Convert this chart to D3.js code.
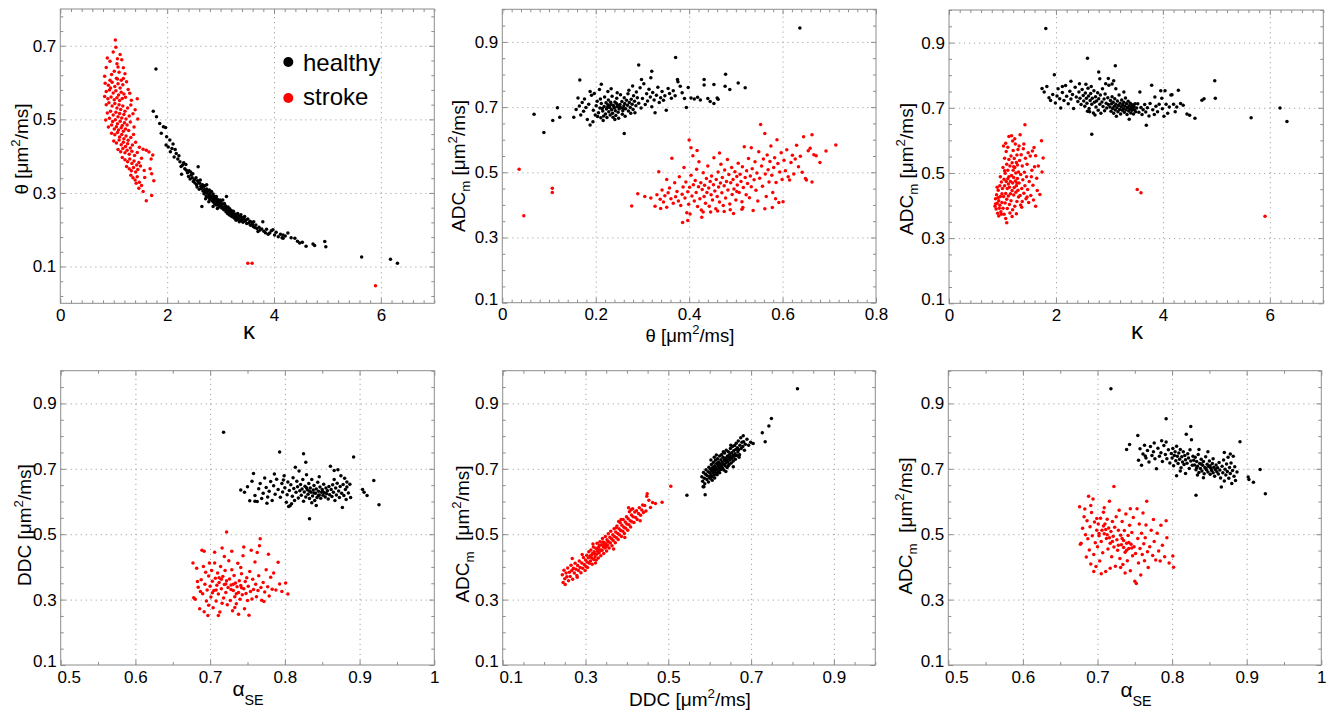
<!DOCTYPE html>
<html>
<head>
<meta charset="utf-8">
<script src="https://cdn.jsdelivr.net/npm/d3@7"></script>
<style>
  body { margin: 0; background: #fff; }
  svg { display: block; font-family: "Liberation Sans", Arial, Helvetica, sans-serif; }
</style>
</head>
<body>
<svg id="fig" width="1329" height="712"></svg>
<script>
// ---------- tick labels ----------
const kappaTicks = [0, 2, 4, 6];
const thetaTicksY = [0.1, 0.3, 0.5, 0.7];
const thetaTicksX = [0, 0.2, 0.4, 0.6, 0.8];
const adcTicks = [0.1, 0.3, 0.5, 0.7, 0.9];
const ddcTicks = [0.1, 0.3, 0.5, 0.7, 0.9];
const alphaTicks = [0.5, 0.6, 0.7, 0.8, 0.9, 1];
const groups = ["healthy", "stroke"];

// ---------- kappa vs theta ----------
const kappaThetaHealthy = [
[1.74,0.522],[1.80,0.507],[1.86,0.489],[1.93,0.480],[1.97,0.478],[1.89,0.462],[1.99,0.453],[2.05,0.444],[2.11,0.433],[1.98,0.430],[2.02,0.425],[2.17,0.407],[2.06,0.412],[2.13,0.398],[2.09,0.421],[2.20,0.392],[2.15,0.418],[2.22,0.401],
[2.24,0.385],[2.29,0.376],[2.27,0.351],[2.31,0.382],[2.26,0.372],[2.33,0.366],[2.36,0.362],[2.35,0.377],[2.38,0.355],[2.41,0.360],[2.40,0.345],[2.43,0.338],[2.45,0.349],[2.44,0.357],[2.47,0.341],[2.49,0.331],[2.48,0.352],[2.51,0.336],[2.52,0.327],[2.54,0.341],[2.55,0.322],[2.57,0.333],[2.58,0.371],[2.56,0.316],[2.59,0.328],[2.60,0.310],[2.61,0.326],[2.62,0.335],[2.63,0.318],[2.65,0.263],
[2.64,0.312],[2.66,0.322],[2.67,0.305],[2.68,0.316],[2.69,0.298],[2.70,0.309],[2.71,0.320],[2.72,0.302],[2.73,0.292],[2.74,0.322],[2.74,0.311],[2.75,0.299],[2.76,0.305],[2.77,0.288],[2.78,0.296],[2.79,0.308],[2.80,0.283],[2.80,0.293],[2.81,0.301],[2.82,0.287],[2.83,0.304],[2.84,0.279],[2.84,0.292],[2.85,0.286],[2.86,0.297],[2.87,0.275],[2.88,0.282],[2.88,0.291],[2.89,0.270],[2.90,0.285],[2.91,0.278],[2.92,0.290],[2.92,0.267],[2.93,0.274],[2.94,0.283],[2.95,0.268],[2.96,0.277],[2.97,0.262],[2.98,0.272],[2.99,0.281],[3.00,0.266],[2.72,0.284],[2.78,0.276],[2.86,0.263],[2.94,0.258],
[3.01,0.276],[3.02,0.259],[3.03,0.269],[3.04,0.281],[3.05,0.262],[3.06,0.254],[3.07,0.271],[3.08,0.258],[3.09,0.265],[3.10,0.249],[3.11,0.290],[3.11,0.260],[3.12,0.253],[3.13,0.244],[3.14,0.262],[3.15,0.251],[3.16,0.241],[3.17,0.257],[3.18,0.248],[3.19,0.238],[3.20,0.252],[3.21,0.244],[3.22,0.235],[3.23,0.245],[3.24,0.250],[3.25,0.239],[3.26,0.231],[3.27,0.243],[3.28,0.236],[3.29,0.226],[3.30,0.240],[3.31,0.233],[3.32,0.244],[3.33,0.228],[3.34,0.237],[3.35,0.222],[3.36,0.236],[3.37,0.230],[3.38,0.241],[3.39,0.225],[3.40,0.233],[3.42,0.220],[3.43,0.229],[3.45,0.236],[3.46,0.224],[3.48,0.227],[3.49,0.217],
[3.51,0.229],[3.53,0.218],[3.55,0.223],[3.56,0.212],[3.58,0.220],[3.60,0.214],[3.61,0.209],[3.62,0.222],[3.64,0.206],[3.66,0.213],[3.68,0.203],[3.70,0.195],[3.72,0.207],[3.74,0.199],[3.77,0.202],[3.79,0.222],[3.81,0.196],[3.84,0.192],[3.86,0.201],[3.89,0.188],[3.92,0.191],[3.95,0.197],[3.98,0.200],[4.01,0.186],[4.04,0.193],[4.08,0.181],[4.12,0.188],[4.15,0.178],[4.17,0.186],[4.17,0.177],[4.21,0.183],[4.26,0.191],
[4.32,0.178],[4.39,0.177],[4.44,0.169],[4.48,0.164],[4.53,0.166],[4.60,0.155],[4.73,0.161],[4.76,0.157],[4.95,0.168],[4.97,0.154],
[1.79,0.637],[5.64,0.126],[6.18,0.120],[6.31,0.109]
];
const kappaThetaStroke = [
[1.03,0.716],[1.04,0.696],[0.88,0.667],[1.07,0.665],[1.15,0.662],[1.06,0.651],[1.08,0.642],[0.93,0.658],[0.99,0.683],[1.12,0.676],[0.86,0.641],[1.01,0.631],[1.10,0.628],[0.96,0.622],[1.18,0.640],[0.83,0.617],[0.93,0.606],[1.05,0.612],[1.14,0.606],[1.21,0.624],
[0.84,0.598],[0.90,0.593],[0.97,0.601],[1.02,0.589],[1.08,0.597],[1.12,0.585],[1.17,0.594],[1.24,0.602],[0.86,0.576],[0.92,0.580],[0.99,0.572],[1.04,0.578],[1.09,0.566],[1.14,0.574],[1.19,0.569],[1.27,0.581],[0.83,0.562],[0.89,0.556],[0.95,0.561],[1.01,0.553],[1.06,0.559],[1.11,0.551],[1.16,0.557],[1.22,0.560],[1.33,0.552],[1.44,0.556],[0.94,0.585],[1.07,0.610],[1.30,0.571],[1.18,0.611],
[0.86,0.540],[0.91,0.545],[0.97,0.536],[1.02,0.543],[1.06,0.531],[1.10,0.540],[1.13,0.527],[1.17,0.536],[1.21,0.522],[1.26,0.531],[1.32,0.539],[1.40,0.526],[0.88,0.517],[0.94,0.522],[0.99,0.512],[1.04,0.519],[1.08,0.507],[1.11,0.516],[1.15,0.504],[1.19,0.513],[1.23,0.501],[1.29,0.509],[1.36,0.515],[0.85,0.498],[0.92,0.503],[0.98,0.494],[1.03,0.499],[1.07,0.488],[1.12,0.495],[1.16,0.483],[1.20,0.491],[1.25,0.485],[1.31,0.493],[1.45,0.501],[0.90,0.479],[0.96,0.485],[1.01,0.474],[1.05,0.480],[1.09,0.471],[1.14,0.477],[1.18,0.468],[1.22,0.474],[1.28,0.470],[1.38,0.479],
[0.96,0.462],[1.02,0.458],[1.07,0.464],[1.11,0.452],[1.15,0.459],[1.19,0.447],[1.23,0.455],[1.27,0.443],[1.32,0.451],[1.37,0.459],[1.00,0.441],[1.05,0.436],[1.10,0.444],[1.14,0.431],[1.18,0.438],[1.22,0.426],[1.26,0.434],[1.31,0.422],[1.35,0.430],[1.41,0.438],[1.48,0.424],[1.08,0.418],[1.13,0.412],[1.17,0.421],[1.21,0.409],[1.25,0.416],[1.29,0.405],[1.34,0.413],[1.39,0.402],[1.44,0.410],[1.61,0.416],[1.73,0.403],[1.66,0.411],[1.55,0.419],[1.70,0.392],
[1.16,0.396],[1.21,0.390],[1.26,0.385],[1.30,0.392],[1.34,0.380],[1.38,0.387],[1.43,0.376],[1.47,0.383],[1.52,0.394],[1.24,0.372],[1.29,0.366],[1.33,0.360],[1.37,0.369],[1.41,0.357],[1.45,0.364],[1.50,0.373],[1.57,0.361],[1.68,0.366],[1.75,0.333],[1.71,0.352],[1.32,0.348],[1.36,0.341],[1.40,0.335],[1.44,0.344],[1.48,0.329],[1.52,0.320],[1.47,0.313],[1.55,0.304],[1.61,0.279],[1.71,0.293],[1.42,0.326],[1.58,0.342],
[3.51,0.109],[3.59,0.109],[5.90,0.048]
];

// ---------- theta vs ADC_m ----------
const thetaAdcHealthy = [
[0.195,0.690],[0.201,0.704],[0.206,0.683],[0.209,0.697],[0.212,0.711],[0.215,0.688],[0.218,0.702],[0.221,0.679],[0.223,0.694],[0.226,0.707],[0.228,0.686],[0.230,0.699],[0.232,0.715],[0.234,0.692],[0.236,0.681],[0.238,0.705],[0.240,0.697],[0.242,0.689],[0.244,0.712],[0.246,0.701],[0.248,0.684],[0.250,0.694],[0.252,0.708],[0.254,0.698],[0.256,0.717],[0.258,0.689],[0.260,0.703],[0.262,0.711],[0.264,0.695],[0.266,0.721],[0.268,0.706],[0.270,0.688],[0.272,0.714],[0.274,0.699],[0.276,0.724],[0.278,0.709],[0.280,0.693],[0.283,0.718],[0.286,0.704],[0.289,0.729],
[0.199,0.676],[0.204,0.671],[0.211,0.667],[0.217,0.673],[0.224,0.668],[0.231,0.676],[0.237,0.669],[0.243,0.674],[0.249,0.666],[0.257,0.678],
[0.203,0.718],[0.210,0.725],[0.219,0.731],[0.227,0.722],[0.235,0.733],[0.245,0.727],[0.253,0.738],[0.261,0.729],[0.269,0.741],[0.281,0.735],
[0.229,0.703],[0.233,0.708],[0.239,0.700],[0.247,0.706],[0.225,0.699],[0.241,0.716],[0.251,0.701],[0.259,0.696],[0.214,0.696],[0.222,0.713],
[0.153,0.669],[0.158,0.693],[0.162,0.728],[0.165,0.703],[0.168,0.676],[0.171,0.714],[0.174,0.687],[0.176,0.725],[0.179,0.699],[0.182,0.662],[0.185,0.709],[0.188,0.645],[0.188,0.748],[0.191,0.736],[0.194,0.655],[0.197,0.742],[0.208,0.754],[0.216,0.659],[0.226,0.748],[0.233,0.756],[0.241,0.662],[0.246,0.744],[0.263,0.672],[0.271,0.752],[0.275,0.681],[0.284,0.683],[0.287,0.746],[0.292,0.712],[0.295,0.759],[0.297,0.697],[0.300,0.726],[0.303,0.772],[0.306,0.708],[0.309,0.741],[0.311,0.719],[0.314,0.755],[0.317,0.731],[0.320,0.701],[0.322,0.745],[0.325,0.722],[0.327,0.683],[0.330,0.736],[0.333,0.761],[0.336,0.714],[0.339,0.729],[0.342,0.748],[0.345,0.721],[0.348,0.735],[0.351,0.690],[0.355,0.757],[0.358,0.742],[0.362,0.727],[0.366,0.750],[0.370,0.735],[0.376,0.778],[0.381,0.764],[0.385,0.744],[0.390,0.726],[0.398,0.760],[0.404,0.728],[0.411,0.725],[0.418,0.730],[0.424,0.722],[0.440,0.726],[0.445,0.717],[0.460,0.728],[0.298,0.785],[0.279,0.765],[0.318,0.790],[0.212,0.770],
[0.637,0.943],[0.068,0.678],[0.089,0.622],[0.261,0.619],[0.371,0.852],[0.292,0.829],[0.320,0.810],[0.478,0.801],[0.505,0.774],[0.520,0.759],[0.477,0.764],[0.487,0.754],[0.453,0.769],[0.432,0.785],[0.432,0.768],[0.453,0.711],[0.462,0.724],[0.394,0.699],[0.375,0.785],[0.118,0.698],[0.108,0.659],[0.123,0.669],[0.166,0.783]
];
const thetaAdcStroke = [
[0.331,0.431],[0.335,0.502],[0.338,0.417],[0.342,0.446],[0.345,0.409],[0.348,0.428],[0.352,0.393],[0.355,0.437],[0.358,0.452],[0.361,0.419],[0.363,0.543],[0.366,0.405],[0.369,0.468],[0.371,0.425],[0.374,0.441],[0.377,0.412],[0.379,0.486],[0.382,0.398],[0.385,0.433],[0.387,0.455],[0.389,0.515],[0.391,0.421],[0.393,0.470],[0.395,0.376],[0.397,0.440],[0.399,0.402],[0.339,0.389],[0.327,0.396],[0.318,0.421],[0.305,0.426],[0.352,0.478],
[0.401,0.454],[0.402,0.372],[0.404,0.491],[0.406,0.427],[0.408,0.551],[0.409,0.462],[0.411,0.412],[0.413,0.475],[0.415,0.438],[0.416,0.509],[0.418,0.395],[0.420,0.456],[0.421,0.532],[0.423,0.419],[0.425,0.468],[0.426,0.384],[0.428,0.447],[0.430,0.499],[0.432,0.426],[0.433,0.460],[0.435,0.405],[0.437,0.481],[0.438,0.438],[0.440,0.519],[0.442,0.452],[0.443,0.396],[0.445,0.472],[0.447,0.431],[0.448,0.489],[0.450,0.415],[0.452,0.462],[0.453,0.545],[0.455,0.443],[0.457,0.388],[0.458,0.478],[0.460,0.426],[0.462,0.501],[0.463,0.455],[0.465,0.409],[0.467,0.467],[0.468,0.525],[0.470,0.437],[0.404,0.575],[0.417,0.567],[0.430,0.378],[0.446,0.378],[0.461,0.381],[0.465,0.559],
[0.471,0.484],[0.473,0.398],[0.475,0.459],[0.476,0.507],[0.478,0.421],[0.480,0.472],[0.482,0.539],[0.483,0.446],[0.485,0.493],[0.487,0.403],[0.489,0.468],[0.491,0.515],[0.492,0.432],[0.494,0.478],[0.496,0.449],[0.498,0.502],[0.500,0.415],[0.502,0.487],[0.503,0.461],[0.505,0.528],[0.507,0.438],[0.509,0.494],[0.511,0.472],[0.513,0.410],[0.514,0.517],[0.516,0.453],[0.518,0.578],[0.520,0.484],[0.522,0.431],[0.523,0.505],[0.525,0.466],[0.527,0.542],[0.529,0.422],[0.531,0.489],[0.533,0.456],[0.535,0.511],[0.537,0.383],[0.539,0.477],[0.541,0.532],[0.543,0.445],[0.545,0.498],[0.547,0.412],[0.549,0.563],[0.502,0.441],[0.488,0.385],[0.515,0.392],[0.533,0.575],
[0.551,0.482],[0.553,0.647],[0.555,0.519],[0.557,0.457],[0.559,0.541],[0.562,0.619],[0.563,0.495],[0.565,0.426],[0.567,0.553],[0.569,0.508],[0.571,0.470],[0.573,0.533],[0.575,0.581],[0.577,0.491],[0.579,0.438],[0.581,0.515],[0.583,0.545],[0.586,0.469],[0.588,0.600],[0.590,0.527],[0.592,0.407],[0.594,0.501],[0.597,0.560],[0.599,0.478],[0.601,0.410],[0.603,0.537],[0.606,0.505],[0.609,0.569],[0.612,0.486],[0.615,0.476],[0.618,0.530],[0.621,0.552],[0.624,0.495],[0.627,0.541],[0.630,0.583],[0.634,0.517],[0.638,0.549],[0.642,0.500],[0.645,0.609],[0.649,0.481],[0.651,0.476],[0.655,0.566],[0.659,0.574],[0.663,0.615],[0.663,0.470],[0.667,0.554],[0.672,0.551],[0.680,0.530],[0.693,0.565],[0.714,0.584],[0.562,0.388],[0.578,0.392],[0.585,0.419],
[0.036,0.509],[0.046,0.367],[0.107,0.451],[0.107,0.438],[0.277,0.397],[0.290,0.434],[0.386,0.346],[0.397,0.352],[0.427,0.362],[0.400,0.599],[0.513,0.387],[0.495,0.374],[0.475,0.380]
];

// ---------- kappa vs ADC_m ----------
const kappaAdcHealthy = [
[1.74,0.759],[1.78,0.748],[1.83,0.765],[1.87,0.731],[1.90,0.722],[1.94,0.741],[1.97,0.801],[1.99,0.715],[2.02,0.736],[2.04,0.758],[2.07,0.728],[2.09,0.699],[2.12,0.747],[2.15,0.722],[2.18,0.768],[2.20,0.735],[2.23,0.712],[2.26,0.751],[2.28,0.727],[2.31,0.741],[2.33,0.698],[2.36,0.763],[2.38,0.733],[2.41,0.719],[2.43,0.748],[2.45,0.729],[2.47,0.710],[2.49,0.756],[2.44,0.774],[2.28,0.781],[2.12,0.765],
[2.51,0.738],[2.52,0.721],[2.54,0.705],[2.55,0.745],[2.57,0.729],[2.58,0.714],[2.60,0.760],[2.61,0.736],[2.62,0.698],[2.64,0.722],[2.65,0.744],[2.67,0.711],[2.68,0.729],[2.70,0.684],[2.71,0.752],[2.72,0.717],[2.74,0.734],[2.75,0.702],[2.76,0.721],[2.78,0.746],[2.79,0.692],[2.80,0.728],[2.82,0.711],[2.83,0.739],[2.84,0.683],[2.86,0.718],[2.87,0.758],[2.88,0.704],[2.90,0.727],[2.91,0.691],[2.92,0.742],[2.94,0.714],[2.95,0.699],[2.97,0.731],[2.98,0.710],[2.99,0.769],[2.56,0.772],[2.66,0.765],[2.82,0.789],[2.93,0.774],[2.73,0.678],[2.63,0.688],[2.59,0.689],
[3.01,0.702],[3.02,0.722],[3.03,0.689],[3.04,0.712],[3.05,0.734],[3.06,0.698],[3.07,0.717],[3.08,0.683],[3.09,0.705],[3.10,0.728],[3.11,0.693],[3.12,0.711],[3.13,0.674],[3.14,0.700],[3.15,0.721],[3.16,0.688],[3.17,0.707],[3.18,0.739],[3.19,0.695],[3.20,0.714],[3.21,0.681],[3.22,0.703],[3.23,0.724],[3.24,0.692],[3.25,0.709],[3.26,0.697],[3.27,0.717],[3.28,0.686],[3.29,0.705],[3.30,0.730],[3.31,0.694],[3.32,0.712],[3.33,0.679],[3.34,0.701],[3.35,0.720],[3.36,0.690],[3.37,0.706],[3.38,0.696],[3.39,0.714],[3.40,0.684],[3.41,0.702],[3.42,0.692],[3.43,0.709],[3.44,0.698],[3.45,0.681],[3.46,0.704],[3.47,0.693],[3.48,0.712],[3.49,0.688],[3.37,0.665],[3.12,0.758],[3.27,0.748],[3.08,0.783],[3.05,0.773],
[3.51,0.699],[3.53,0.712],[3.55,0.686],[3.57,0.748],[3.59,0.701],[3.61,0.679],[3.63,0.694],[3.66,0.710],[3.68,0.687],[3.69,0.646],[3.71,0.700],[3.74,0.675],[3.76,0.713],[3.79,0.769],[3.81,0.694],[3.84,0.679],[3.87,0.705],[3.90,0.688],[3.93,0.711],[3.96,0.752],[3.99,0.697],[4.02,0.674],[4.04,0.752],[4.06,0.711],[4.09,0.683],[4.12,0.702],[4.15,0.739],[4.17,0.740],[4.20,0.711],[4.23,0.688],[4.26,0.702],[4.29,0.754],[4.33,0.713],[4.38,0.708],[4.45,0.681],[4.50,0.677],[3.98,0.729],[3.85,0.733],
[1.81,0.943],[2.59,0.852],[3.11,0.829],[4.97,0.783],[4.98,0.729],[5.65,0.669],[6.19,0.699],[6.32,0.658],[2.67,0.619],[4.60,0.668],[4.73,0.723],[4.77,0.728],[2.80,0.810],[2.98,0.790]
];
const kappaAdcStroke = [
[0.86,0.398],[0.87,0.421],[0.88,0.389],[0.89,0.433],[0.90,0.407],[0.91,0.376],[0.92,0.447],[0.93,0.415],[0.94,0.392],[0.95,0.461],[0.96,0.428],[0.97,0.381],[0.98,0.472],[0.99,0.409],[0.93,0.368],[0.96,0.488],[0.99,0.436],[0.90,0.456],[0.87,0.405],[0.95,0.401],[0.98,0.373],[0.92,0.424],
[1.00,0.452],[1.01,0.392],[1.01,0.517],[1.02,0.428],[1.03,0.481],[1.03,0.373],[1.04,0.545],[1.04,0.461],[1.05,0.408],[1.05,0.499],[1.06,0.360],[1.06,0.437],[1.07,0.566],[1.07,0.474],[1.08,0.347],[1.08,0.419],[1.08,0.527],[1.09,0.452],[1.09,0.391],[1.10,0.508],[1.10,0.579],[1.11,0.466],[1.11,0.429],[1.12,0.541],[1.12,0.488],[1.13,0.403],[1.13,0.456],[1.14,0.521],[1.14,0.377],[1.15,0.474],[1.02,0.583],[1.06,0.591],[1.12,0.612],[1.15,0.436],[1.04,0.507],[1.10,0.482],
[1.16,0.552],[1.16,0.415],[1.17,0.614],[1.17,0.492],[1.18,0.446],[1.18,0.531],[1.19,0.387],[1.19,0.469],[1.20,0.569],[1.20,0.508],[1.21,0.432],[1.21,0.486],[1.22,0.544],[1.22,0.455],[1.23,0.398],[1.23,0.517],[1.24,0.475],[1.24,0.589],[1.25,0.441],[1.25,0.500],[1.26,0.532],[1.26,0.461],[1.27,0.412],[1.27,0.555],[1.28,0.483],[1.28,0.524],[1.29,0.447],[1.29,0.572],[1.30,0.503],[1.30,0.426],[1.19,0.598],[1.23,0.605],[1.26,0.375],[1.18,0.366],[1.21,0.519],[1.27,0.469],
[1.31,0.469],[1.32,0.538],[1.33,0.617],[1.33,0.431],[1.34,0.495],[1.35,0.556],[1.36,0.452],[1.37,0.412],[1.37,0.521],[1.38,0.479],[1.39,0.574],[1.40,0.438],[1.41,0.502],[1.42,0.648],[1.42,0.461],[1.43,0.545],[1.44,0.421],[1.45,0.488],[1.46,0.527],[1.47,0.449],[1.48,0.562],[1.49,0.409],[1.50,0.474],[1.36,0.395],[1.40,0.589],[1.31,0.583],[1.34,0.402],[1.46,0.426],
[1.52,0.552],[1.53,0.431],[1.55,0.508],[1.56,0.567],[1.57,0.462],[1.59,0.578],[1.60,0.519],[1.62,0.398],[1.62,0.553],[1.64,0.484],[1.65,0.446],[1.67,0.521],[1.70,0.434],[1.73,0.599],[1.74,0.503],[1.76,0.546],[1.58,0.417],[1.54,0.488],
[3.52,0.449],[3.59,0.439],[5.91,0.367]
];

// ---------- alpha_SE vs DDC ----------
const alphaDdcHealthy = [
[0.741,0.635],[0.746,0.628],[0.750,0.645],[0.753,0.602],[0.756,0.662],[0.758,0.686],[0.760,0.618],[0.763,0.600],[0.765,0.639],[0.767,0.655],[0.769,0.609],[0.771,0.625],[0.773,0.672],[0.775,0.643],[0.777,0.614],[0.779,0.631],[0.781,0.661],[0.783,0.603],[0.785,0.648],[0.787,0.622],[0.789,0.668],[0.791,0.637],[0.776,0.595],[0.786,0.684],[0.760,0.601],[0.793,0.751],
[0.794,0.613],[0.796,0.655],[0.797,0.629],[0.799,0.679],[0.800,0.642],[0.802,0.598],[0.803,0.621],[0.804,0.660],[0.806,0.634],[0.807,0.587],[0.808,0.651],[0.810,0.616],[0.811,0.673],[0.812,0.640],[0.813,0.603],[0.815,0.628],[0.816,0.662],[0.817,0.645],[0.818,0.611],[0.819,0.693],[0.820,0.633],[0.814,0.705],[0.805,0.585],[0.798,0.666],[0.809,0.593],
[0.821,0.652],[0.822,0.619],[0.823,0.638],[0.824,0.667],[0.825,0.746],[0.825,0.601],[0.826,0.629],[0.827,0.647],[0.828,0.614],[0.829,0.682],[0.830,0.636],[0.831,0.622],[0.832,0.655],[0.833,0.547],[0.833,0.609],[0.834,0.641],[0.835,0.628],[0.836,0.667],[0.837,0.617],[0.838,0.635],[0.839,0.649],[0.840,0.603],[0.841,0.625],[0.842,0.638],[0.843,0.612],[0.844,0.659],[0.845,0.631],[0.846,0.620],[0.847,0.644],[0.848,0.610],[0.849,0.628],[0.850,0.637],[0.851,0.619],[0.852,0.653],[0.853,0.627],[0.854,0.614],[0.855,0.641],[0.856,0.624],[0.857,0.633],[0.858,0.608],[0.859,0.646],[0.860,0.621],[0.861,0.708],[0.836,0.596],[0.842,0.588],[0.828,0.720],[0.846,0.676],[0.839,0.626],[0.851,0.630],[0.845,0.618],[0.833,0.631],[0.829,0.642],
[0.862,0.637],[0.863,0.615],[0.864,0.651],[0.865,0.628],[0.866,0.667],[0.867,0.603],[0.868,0.641],[0.869,0.620],[0.870,0.656],[0.871,0.697],[0.872,0.632],[0.873,0.612],[0.874,0.646],[0.875,0.679],[0.876,0.625],[0.877,0.582],[0.878,0.652],[0.879,0.618],[0.880,0.671],[0.881,0.637],[0.882,0.606],[0.883,0.644],[0.885,0.626],[0.887,0.653],[0.888,0.612],[0.892,0.736],[0.904,0.637],[0.906,0.628],[0.910,0.618],[0.919,0.664],[0.926,0.590],[0.866,0.695],[0.883,0.660],
[0.718,0.812]
];
const alphaDdcStroke = [
[0.677,0.412],[0.678,0.306],[0.680,0.301],[0.682,0.396],[0.684,0.338],[0.686,0.272],[0.688,0.361],[0.689,0.451],[0.690,0.318],[0.691,0.401],[0.692,0.263],[0.693,0.347],[0.694,0.384],[0.695,0.296],[0.696,0.329],[0.697,0.251],[0.698,0.372],[0.699,0.412],[0.687,0.325],[0.683,0.355],[0.692,0.448],[0.698,0.283],
[0.700,0.341],[0.701,0.308],[0.702,0.389],[0.703,0.356],[0.704,0.275],[0.705,0.328],[0.706,0.412],[0.707,0.365],[0.708,0.296],[0.709,0.344],[0.710,0.381],[0.711,0.317],[0.712,0.352],[0.713,0.262],[0.714,0.401],[0.715,0.333],[0.716,0.458],[0.717,0.371],[0.718,0.305],[0.719,0.346],[0.720,0.389],[0.721,0.322],[0.722,0.507],[0.722,0.358],[0.723,0.284],[0.724,0.337],[0.725,0.419],[0.711,0.251],[0.706,0.445],[0.716,0.289],[0.719,0.432],[0.703,0.321],[0.712,0.367],[0.708,0.329],[0.721,0.348],[0.715,0.362],
[0.726,0.363],[0.727,0.297],[0.728,0.345],[0.729,0.391],[0.730,0.266],[0.731,0.328],[0.732,0.374],[0.733,0.309],[0.734,0.351],[0.735,0.287],[0.736,0.339],[0.737,0.411],[0.738,0.322],[0.739,0.358],[0.740,0.301],[0.741,0.343],[0.742,0.379],[0.743,0.315],[0.744,0.434],[0.745,0.333],[0.746,0.272],[0.747,0.355],[0.748,0.319],[0.749,0.367],[0.750,0.297],[0.729,0.448],[0.733,0.276],[0.738,0.255],[0.741,0.398],[0.745,0.461],[0.728,0.331],[0.735,0.318],[0.742,0.336],[0.731,0.347],
[0.751,0.341],[0.752,0.252],[0.753,0.386],[0.754,0.325],[0.755,0.451],[0.756,0.302],[0.757,0.362],[0.758,0.331],[0.760,0.415],[0.761,0.347],[0.762,0.309],[0.763,0.444],[0.764,0.328],[0.765,0.373],[0.766,0.465],[0.767,0.486],[0.768,0.337],[0.769,0.298],[0.771,0.352],[0.773,0.323],[0.775,0.391],[0.777,0.339],[0.779,0.311],[0.781,0.368],[0.783,0.332],[0.785,0.381],[0.788,0.329],[0.791,0.414],[0.793,0.348],[0.796,0.325],[0.801,0.351],[0.804,0.317],[0.778,0.439],[0.772,0.294]
];

// ---------- DDC vs ADC_m ----------
const ddcAdcHealthy = [
[0.581,0.676],[0.583,0.662],[0.585,0.689],[0.587,0.671],[0.588,0.654],[0.590,0.683],[0.591,0.697],[0.593,0.667],[0.594,0.679],[0.596,0.691],[0.597,0.660],[0.598,0.705],[0.599,0.676],[0.586,0.645],[0.589,0.621],[0.584,0.645],
[0.600,0.688],[0.601,0.671],[0.602,0.699],[0.603,0.682],[0.604,0.713],[0.605,0.693],[0.606,0.676],[0.607,0.704],[0.608,0.687],[0.609,0.719],[0.610,0.698],[0.611,0.681],[0.612,0.709],[0.613,0.692],[0.614,0.726],[0.615,0.704],[0.616,0.686],[0.617,0.716],[0.618,0.698],[0.619,0.731],[0.620,0.709],[0.621,0.691],[0.622,0.721],[0.623,0.703],[0.624,0.739],[0.625,0.714],[0.626,0.697],[0.627,0.728],[0.628,0.708],[0.629,0.744],[0.606,0.665],[0.612,0.672],[0.618,0.682],[0.624,0.688],[0.603,0.727],[0.611,0.735],[0.616,0.742],[0.620,0.718],[0.614,0.700],[0.608,0.695],
[0.630,0.720],[0.631,0.702],[0.632,0.735],[0.633,0.714],[0.634,0.696],[0.635,0.727],[0.636,0.748],[0.637,0.709],[0.638,0.733],[0.639,0.718],[0.640,0.757],[0.641,0.724],[0.642,0.704],[0.643,0.739],[0.644,0.721],[0.645,0.752],[0.646,0.730],[0.647,0.713],[0.648,0.744],[0.649,0.727],[0.650,0.762],[0.651,0.736],[0.652,0.718],[0.653,0.749],[0.654,0.732],[0.655,0.768],[0.656,0.741],[0.657,0.724],[0.658,0.755],[0.659,0.738],[0.636,0.726],[0.642,0.731],[0.648,0.735],[0.633,0.752],[0.645,0.709],[0.651,0.772],[0.639,0.692],[0.657,0.706],
[0.660,0.771],[0.661,0.746],[0.662,0.729],[0.663,0.759],[0.664,0.778],[0.665,0.741],[0.667,0.764],[0.668,0.751],[0.669,0.785],[0.670,0.758],[0.672,0.743],[0.673,0.772],[0.675,0.795],[0.676,0.762],[0.678,0.781],[0.680,0.768],[0.682,0.783],[0.684,0.757],[0.686,0.775],[0.690,0.790],[0.694,0.772],[0.699,0.781],[0.705,0.777],[0.681,0.801],[0.671,0.735],
[0.812,0.945],[0.749,0.854],[0.743,0.831],[0.727,0.810],[0.734,0.783],[0.545,0.619]
];
const ddcAdcStroke = [
[0.244,0.376],[0.246,0.352],[0.248,0.390],[0.250,0.364],[0.251,0.346],[0.253,0.381],[0.255,0.370],[0.257,0.397],[0.259,0.358],[0.261,0.384],[0.263,0.371],[0.265,0.405],[0.267,0.389],[0.269,0.362],[0.271,0.396],[0.273,0.381],[0.275,0.411],[0.277,0.393],[0.279,0.374],[0.281,0.404],[0.283,0.389],[0.285,0.418],[0.287,0.398],[0.289,0.382],[0.291,0.412],[0.293,0.396],[0.295,0.429],[0.297,0.407],[0.299,0.389],[0.268,0.426],[0.280,0.368],[0.292,0.438],
[0.300,0.421],[0.301,0.401],[0.303,0.436],[0.304,0.415],[0.305,0.398],[0.307,0.428],[0.308,0.446],[0.309,0.411],[0.311,0.433],[0.312,0.418],[0.313,0.452],[0.315,0.427],[0.316,0.408],[0.317,0.441],[0.319,0.461],[0.320,0.423],[0.321,0.446],[0.323,0.431],[0.324,0.412],[0.325,0.457],[0.327,0.439],[0.328,0.472],[0.329,0.448],[0.331,0.427],[0.332,0.461],[0.333,0.443],[0.335,0.477],[0.336,0.452],[0.337,0.434],[0.339,0.468],[0.340,0.451],[0.341,0.487],[0.343,0.462],[0.344,0.441],[0.345,0.475],[0.347,0.458],[0.348,0.493],[0.349,0.469],[0.351,0.449],[0.352,0.483],[0.353,0.466],[0.355,0.501],[0.356,0.477],[0.357,0.458],[0.359,0.491],[0.318,0.470],[0.326,0.421],[0.334,0.466],[0.342,0.476],[0.350,0.462],[0.322,0.440],[0.338,0.451],[0.346,0.467],[0.354,0.477],[0.330,0.455],[0.314,0.436],
[0.360,0.473],[0.361,0.509],[0.363,0.486],[0.364,0.465],[0.366,0.498],[0.367,0.481],[0.369,0.517],[0.370,0.493],[0.372,0.474],[0.373,0.507],[0.375,0.489],[0.376,0.525],[0.378,0.502],[0.379,0.484],[0.381,0.517],[0.382,0.498],[0.384,0.535],[0.385,0.511],[0.387,0.493],[0.388,0.527],[0.390,0.509],[0.391,0.545],[0.393,0.521],[0.394,0.502],[0.396,0.537],[0.397,0.518],[0.399,0.553],[0.400,0.531],[0.402,0.512],[0.403,0.547],[0.405,0.529],[0.406,0.569],[0.408,0.541],[0.409,0.522],[0.411,0.559],[0.412,0.538],[0.414,0.578],[0.415,0.553],[0.417,0.536],[0.419,0.568],[0.368,0.455],[0.380,0.539],[0.395,0.490],[0.404,0.581],[0.410,0.575],[0.386,0.545],[0.374,0.520],
[0.421,0.551],[0.423,0.572],[0.425,0.545],[0.428,0.563],[0.430,0.581],[0.433,0.558],[0.436,0.574],[0.440,0.566],[0.443,0.588],[0.446,0.571],[0.448,0.616],[0.449,0.624],[0.453,0.604],[0.457,0.582],[0.462,0.597],[0.469,0.594],[0.485,0.598],[0.506,0.647],[0.432,0.541],[0.438,0.589]
];

// ---------- alpha_SE vs ADC_m ----------
const alphaAdcHealthy = [
[0.739,0.759],[0.743,0.774],[0.754,0.802],[0.755,0.726],[0.757,0.761],[0.759,0.711],[0.761,0.745],[0.763,0.772],[0.765,0.733],[0.767,0.756],[0.769,0.721],[0.771,0.768],[0.773,0.741],[0.775,0.752],[0.777,0.731],[0.779,0.700],[0.781,0.763],[0.783,0.738],[0.785,0.749],[0.787,0.722],[0.789,0.771],[0.791,0.744],[0.793,0.731],[0.795,0.758],[0.797,0.718],[0.799,0.747],[0.776,0.779],[0.786,0.786],[0.792,0.782],[0.764,0.739],
[0.800,0.733],[0.801,0.762],[0.802,0.709],[0.803,0.741],[0.804,0.752],[0.805,0.725],[0.806,0.769],[0.807,0.738],[0.808,0.716],[0.809,0.748],[0.810,0.729],[0.811,0.759],[0.812,0.703],[0.813,0.737],[0.814,0.721],[0.815,0.752],[0.816,0.713],[0.817,0.741],[0.818,0.728],[0.819,0.806],[0.820,0.717],[0.821,0.746],[0.822,0.733],[0.823,0.701],[0.824,0.758],[0.825,0.724],[0.826,0.789],[0.827,0.711],[0.828,0.738],[0.829,0.726],[0.818,0.686],[0.811,0.693],[0.806,0.679],
[0.830,0.712],[0.831,0.735],[0.832,0.697],[0.833,0.722],[0.834,0.708],[0.835,0.744],[0.836,0.689],[0.837,0.716],[0.838,0.701],[0.839,0.729],[0.840,0.693],[0.841,0.711],[0.842,0.722],[0.843,0.685],[0.844,0.704],[0.845,0.737],[0.846,0.697],[0.847,0.714],[0.848,0.690],[0.849,0.707],[0.850,0.724],[0.851,0.683],[0.852,0.702],[0.853,0.695],[0.854,0.716],[0.855,0.688],[0.856,0.705],[0.857,0.677],[0.858,0.698],[0.859,0.712],[0.860,0.691],[0.834,0.681],[0.842,0.673],[0.848,0.752],[0.836,0.759],[0.855,0.731],[0.845,0.702],[0.839,0.715],[0.851,0.709],[0.833,0.703],
[0.861,0.703],[0.862,0.684],[0.863,0.719],[0.864,0.696],[0.865,0.672],[0.866,0.644],[0.867,0.708],[0.868,0.688],[0.869,0.727],[0.870,0.663],[0.871,0.699],[0.872,0.681],[0.873,0.715],[0.874,0.692],[0.875,0.735],[0.876,0.671],[0.877,0.704],[0.878,0.686],[0.879,0.718],[0.880,0.655],[0.881,0.695],[0.882,0.738],[0.883,0.677],[0.884,0.706],[0.885,0.664],[0.887,0.690],[0.891,0.783],[0.902,0.675],[0.903,0.667],[0.909,0.659],[0.918,0.698],[0.925,0.624],[0.870,0.750],[0.878,0.745],
[0.718,0.945],[0.792,0.853],[0.825,0.829],[0.832,0.619]
];
const alphaAdcStroke = [
[0.676,0.584],[0.677,0.469],[0.678,0.472],[0.680,0.518],[0.682,0.553],[0.684,0.498],[0.685,0.430],[0.686,0.541],[0.687,0.486],[0.688,0.616],[0.689,0.452],[0.690,0.523],[0.691,0.409],[0.692,0.566],[0.693,0.495],[0.694,0.608],[0.695,0.438],[0.696,0.537],[0.697,0.474],[0.698,0.401],[0.699,0.512],[0.683,0.577],[0.691,0.588],[0.695,0.386],[0.699,0.548],
[0.700,0.462],[0.701,0.531],[0.702,0.495],[0.703,0.418],[0.704,0.549],[0.705,0.478],[0.706,0.512],[0.707,0.443],[0.708,0.567],[0.709,0.501],[0.710,0.531],[0.711,0.386],[0.712,0.487],[0.713,0.546],[0.714,0.455],[0.715,0.519],[0.716,0.601],[0.717,0.472],[0.718,0.508],[0.719,0.431],[0.720,0.539],[0.721,0.494],[0.722,0.646],[0.722,0.461],[0.723,0.521],[0.724,0.402],[0.725,0.553],[0.705,0.379],[0.709,0.581],[0.717,0.396],[0.702,0.502],[0.711,0.514],[0.716,0.489],[0.720,0.478],[0.708,0.525],[0.713,0.498],
[0.726,0.483],[0.727,0.451],[0.728,0.512],[0.729,0.573],[0.730,0.426],[0.731,0.497],[0.732,0.468],[0.733,0.539],[0.734,0.407],[0.735,0.481],[0.736,0.511],[0.737,0.445],[0.738,0.562],[0.739,0.472],[0.740,0.419],[0.741,0.496],[0.742,0.456],[0.743,0.527],[0.744,0.388],[0.745,0.469],[0.746,0.505],[0.747,0.434],[0.748,0.551],[0.749,0.462],[0.750,0.356],[0.731,0.398],[0.737,0.381],[0.744,0.578],[0.728,0.466],[0.735,0.459],[0.742,0.475],[0.733,0.487],[0.739,0.451],[0.746,0.458],
[0.751,0.441],[0.752,0.349],[0.753,0.578],[0.754,0.487],[0.755,0.412],[0.756,0.531],[0.757,0.456],[0.758,0.375],[0.759,0.503],[0.760,0.438],[0.761,0.565],[0.762,0.471],[0.763,0.419],[0.764,0.489],[0.765,0.528],[0.766,0.601],[0.767,0.446],[0.768,0.398],[0.770,0.462],[0.772,0.512],[0.774,0.435],[0.776,0.478],[0.778,0.421],[0.780,0.503],[0.782,0.449],[0.784,0.418],[0.787,0.466],[0.790,0.431],[0.793,0.489],[0.796,0.412],[0.801,0.433],[0.802,0.399],[0.775,0.545],[0.785,0.527],[0.792,0.541]
];

// ---------- axis titles (text runs: [text, role]) ----------
const T_KAPPA = [["κ", ""]];
const T_THETA = [["θ [μm", ""], ["2", "sup"], ["/ms]", ""]];
const T_ADC = [["ADC", ""], ["m", "sub"], [" [μm", ""], ["2", "sup"], ["/ms]", ""]];
const T_ADC2 = [["ADC", ""], ["m", "sub"], ["  [μm", ""], ["2", "sup"], ["/ms]", ""]];
const T_DDC = [["DDC [μm", ""], ["2", "sup"], ["/ms]", ""]];
const T_ALPHA = [["α", ""], ["SE", "low"]];

// ---------- panel layout ----------
const panels = [
  { box: { l: 60.3, t: 9, r: 434.3, b: 303.3 }, xd: [0, 7], yd: [0, 0.8], xt: kappaTicks, yt: thetaTicksY,
    xm: 0.2, ym: 0.04, data: [kappaThetaHealthy, kappaThetaStroke],
    xTitle: T_KAPPA, xTitleSize: 24, xTitlePos: [249, 339], yTitle: T_THETA, yTitlePos: [28, 149], legend: true },
  { box: { l: 502.3, t: 9.3, r: 876, b: 302.7 }, xd: [0, 0.8], yd: [0.1, 1.0], xt: thetaTicksX, yt: adcTicks,
    xm: 0.02, ym: 0.05, data: [thetaAdcHealthy, thetaAdcStroke],
    xTitle: T_THETA, xTitleSize: 18.5, xTitlePos: [690, 341.5], yTitle: T_ADC, yTitlePos: [465, 166] },
  { box: { l: 949, t: 10, r: 1323.3, b: 303.3 }, xd: [0, 7], yd: [0.1, 1.0], xt: kappaTicks, yt: adcTicks,
    xm: 0.2, ym: 0.05, data: [kappaAdcHealthy, kappaAdcStroke],
    xTitle: T_KAPPA, xTitleSize: 24, xTitlePos: [1137, 339], yTitle: T_ADC, yTitlePos: [913, 169] },
  { box: { l: 60.7, t: 370.7, r: 434.3, b: 665 }, xd: [0.5, 1.0], yd: [0.1, 1.0], xt: alphaTicks, yt: ddcTicks,
    xm: 0.05, ym: 0.05, data: [alphaDdcHealthy, alphaDdcStroke],
    xTitle: T_ALPHA, xTitleSize: 21, xTitlePos: [248, 696], yTitle: T_DDC, yTitlePos: [31, 525] },
  { box: { l: 502.7, t: 370.7, r: 875.3, b: 665 }, xd: [0.1, 1.0], yd: [0.1, 1.0], xt: ddcTicks, yt: adcTicks,
    xm: 0.05, ym: 0.05, data: [ddcAdcHealthy, ddcAdcStroke],
    xTitle: T_DDC, xTitleSize: 19, xTitlePos: [690, 706], yTitle: T_ADC2, yTitlePos: [469, 534] },
  { box: { l: 948.3, t: 370.7, r: 1321.3, b: 665 }, xd: [0.5, 1.0], yd: [0.1, 1.0], xt: alphaTicks, yt: adcTicks,
    xm: 0.05, ym: 0.05, data: [alphaAdcHealthy, alphaAdcStroke],
    xTitle: T_ALPHA, xTitleSize: 21, xTitlePos: [1136, 697], yTitle: T_ADC2, yTitlePos: [912, 526] }
];

const colors = { healthy: "#000000", stroke: "#ff0000" };
const frameColor = "#8c8c8c";
const fmt = v => String(Math.round(v * 100) / 100);
const svg = d3.select("#fig");

// minor tick positions aligned on the first major tick
function minorValues(domain, anchor, step, majors) {
  const out = [];
  const k0 = Math.ceil((domain[0] - anchor) / step - 1e-9);
  const k1 = Math.floor((domain[1] - anchor) / step + 1e-9);
  for (let k = k0; k <= k1; k++) {
    const v = anchor + k * step;
    if (!majors.some(m => Math.abs(m - v) < step / 4)) out.push(v);
  }
  return out;
}

// rich text with sub/superscript runs
function richText(textSel, runs, size) {
  let cur = 0;
  runs.forEach(([t, role]) => {
    let target = 0, fs = size;
    if (role === "sup") { target = -0.42 * size; fs = 0.7 * size; }
    if (role === "sub") { target = 0.25 * size; fs = 0.7 * size; }
    if (role === "low") { target = 0.45 * size; fs = 0.68 * size; }
    textSel.append("tspan").attr("font-size", fs).attr("dy", target - cur).text(t);
    cur = target;
  });
}

panels.forEach(p => {
  const { l, t, r, b } = p.box;
  const x = d3.scaleLinear().domain(p.xd).range([l, r]);
  const y = d3.scaleLinear().domain(p.yd).range([b, t]);
  const g = svg.append("g");
  const w = r - l, h = b - t;

  // dotted grid
  const inside = (v, d) => v > d[0] + 1e-9 && v < d[1] - 1e-9;
  g.append("g").attr("transform", `translate(0,${b})`)
    .call(d3.axisBottom(x).tickValues(p.xt.filter(v => inside(v, p.xd))).tickSize(-h).tickFormat(""))
    .call(s => s.select(".domain").remove())
    .selectAll("line").attr("stroke", "#a3a3a3").attr("stroke-dasharray", "1.2,3.8");
  g.append("g").attr("transform", `translate(${l},0)`)
    .call(d3.axisLeft(y).tickValues(p.yt.filter(v => inside(v, p.yd))).tickSize(-w).tickFormat(""))
    .call(s => s.select(".domain").remove())
    .selectAll("line").attr("stroke", "#a3a3a3").attr("stroke-dasharray", "1.2,3.8");

  // inward ticks on all four sides
  const xMinor = minorValues(p.xd, p.xt[0], p.xm, p.xt);
  const yMinor = minorValues(p.yd, p.yt[0], p.ym, p.yt);
  const tickSets = [
    [d3.axisBottom(x), `translate(0,${b})`, p.xt, xMinor],
    [d3.axisTop(x), `translate(0,${t})`, p.xt, xMinor],
    [d3.axisLeft(y), `translate(${l},0)`, p.yt, yMinor],
    [d3.axisRight(y), `translate(${r},0)`, p.yt, yMinor]
  ];
  tickSets.forEach(([ax, tr, major, minor]) => {
    g.append("g").attr("transform", tr)
      .call(ax.tickValues(major).tickSize(-5).tickFormat(""))
      .call(s => s.select(".domain").remove())
      .selectAll("line").attr("stroke", frameColor);
    g.append("g").attr("transform", tr)
      .call(ax.tickValues(minor).tickSize(-3).tickFormat(""))
      .call(s => s.select(".domain").remove())
      .selectAll("line").attr("stroke", frameColor);
  });

  // frame
  g.append("rect").attr("x", l).attr("y", t).attr("width", w).attr("height", h)
    .attr("fill", "none").attr("stroke", frameColor).attr("stroke-width", 1);

  // tick labels
  const xl = g.append("g").attr("transform", `translate(0,${b})`)
    .call(d3.axisBottom(x).tickValues(p.xt).tickSize(0).tickPadding(5.5).tickFormat(fmt));
  xl.select(".domain").remove();
  xl.selectAll("text").attr("font-size", 17).attr("fill", "#000")
    .attr("font-family", "Liberation Sans, Arial, sans-serif")
    .attr("dx", d => (Math.abs(d - p.xd[0]) < 1e-9 && fmt(d).length > 1) ? 8 : 0);
  const yl = g.append("g").attr("transform", `translate(${l},0)`)
    .call(d3.axisLeft(y).tickValues(p.yt).tickSize(0).tickPadding(4).tickFormat(fmt));
  yl.select(".domain").remove();
  yl.selectAll("text").attr("font-size", 17).attr("fill", "#000")
    .attr("font-family", "Liberation Sans, Arial, sans-serif")
    .attr("y", d => (Math.abs(d - p.yd[0]) < 1e-9) ? -4 : 0);

  // points
  groups.forEach((grp, gi) => {
    g.append("g").selectAll("circle").data(p.data[gi]).join("circle")
      .attr("cx", d => x(d[0])).attr("cy", d => y(d[1])).attr("r", 1.75)
      .attr("fill", colors[grp]);
  });

  // axis titles
  const xt = g.append("text").attr("x", p.xTitlePos[0]).attr("y", p.xTitlePos[1])
    .attr("text-anchor", "middle").attr("font-size", p.xTitleSize).attr("fill", "#000")
    .style("white-space", "pre");
  richText(xt, p.xTitle, p.xTitleSize);
  const yt = g.append("text")
    .attr("transform", `translate(${p.yTitlePos[0]},${p.yTitlePos[1]}) rotate(-90)`)
    .attr("text-anchor", "middle").attr("font-size", 19).attr("fill", "#000")
    .style("white-space", "pre");
  richText(yt, p.yTitle, 19);

  // legend
  if (p.legend) {
    const lg = g.append("g");
    groups.forEach((grp, gi) => {
      lg.append("circle").attr("cx", 288.3).attr("cy", 62 + gi * 36).attr("r", 5).attr("fill", colors[grp]);
      lg.append("text").attr("x", 303).attr("y", 71 + gi * 34).attr("font-size", 24).attr("fill", "#000").text(grp);
    });
  }
});
</script>
</body>
</html>
